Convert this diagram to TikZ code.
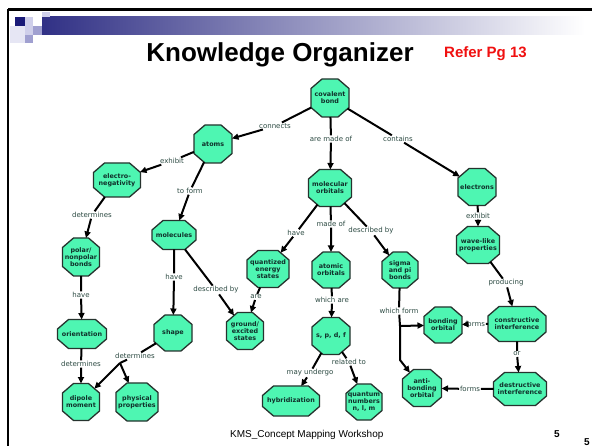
\documentclass[tikz,border=0pt]{standalone}
\usepackage{fontspec}
\setmainfont{Liberation Sans}
\newfontfamily\dvs{DejaVu Sans}
\usetikzlibrary{arrows.meta}
\makeatletter
\newdimen\octL \newdimen\octR \newdimen\octB \newdimen\octT \newdimen\octCX \newdimen\octCY
\def\octcutx{11pt}
\def\octcuty{9.5pt}
\pgfdeclareshape{octbox}{%
  \inheritsavedanchors[from=rectangle]%
  \inheritanchor[from=rectangle]{center}%
  \inheritanchor[from=rectangle]{north}%
  \inheritanchor[from=rectangle]{south}%
  \inheritanchor[from=rectangle]{east}%
  \inheritanchor[from=rectangle]{west}%
  \inheritanchor[from=rectangle]{mid}%
  \inheritanchor[from=rectangle]{base}%
  \backgroundpath{%
    \southwest \octL=\pgf@x \octB=\pgf@y
    \northeast \octR=\pgf@x \octT=\pgf@y
    \octCX=\octcutx\relax \octCY=\octcuty\relax
    \pgfpathmoveto{\pgfqpoint{\octL}{\dimexpr\octB+\octCY\relax}}%
    \pgfpathlineto{\pgfqpoint{\octL}{\dimexpr\octT-\octCY\relax}}%
    \pgfpathlineto{\pgfqpoint{\dimexpr\octL+\octCX\relax}{\octT}}%
    \pgfpathlineto{\pgfqpoint{\dimexpr\octR-\octCX\relax}{\octT}}%
    \pgfpathlineto{\pgfqpoint{\octR}{\dimexpr\octT-\octCY\relax}}%
    \pgfpathlineto{\pgfqpoint{\octR}{\dimexpr\octB+\octCY\relax}}%
    \pgfpathlineto{\pgfqpoint{\dimexpr\octR-\octCX\relax}{\octB}}%
    \pgfpathlineto{\pgfqpoint{\dimexpr\octL+\octCX\relax}{\octB}}%
    \pgfpathclose
  }%
  \anchorborder{%
    \edef\octdx{\the\pgf@x}\edef\octdy{\the\pgf@y}%
    \southwest \octL=\pgf@x \octB=\pgf@y
    \northeast \octR=\pgf@x \octT=\pgf@y
    \pgfmathsetmacro\octa{0.5*(\the\octR)-0.5*(\the\octL)}%
    \pgfmathsetmacro\octb{0.5*(\the\octT)-0.5*(\the\octB)}%
    \pgfmathsetmacro\octcx{0.5*(\the\octR)+0.5*(\the\octL)}%
    \pgfmathsetmacro\octcy{0.5*(\the\octT)+0.5*(\the\octB)}%
    \pgfmathsetmacro\octkx{\octcutx}%
    \pgfmathsetmacro\octky{\octcuty}%
    \pgfmathsetmacro\octadx{max(abs(\octdx),0.002)}%
    \pgfmathsetmacro\octady{max(abs(\octdy),0.002)}%
    \pgfmathsetmacro\octta{\octa/\octadx}%
    \pgfmathsetmacro\octtb{\octb/\octady}%
    \pgfmathsetmacro\octtc{(\octky*\octa+\octkx*\octb-\octkx*\octky)/(\octky*\octadx+\octkx*\octady)}%
    \pgfmathsetmacro\octt{min(\octta,\octtb,\octtc)}%
    \pgfmathsetmacro\octrx{\octcx+\octt*\octdx}%
    \pgfmathsetmacro\octry{\octcy+\octt*\octdy}%
    \pgf@x=\octrx pt\relax
    \pgf@y=\octry pt\relax
  }%
}
\makeatother
\definecolor{octfill}{HTML}{4EF6B2}
\definecolor{octdraw}{HTML}{26332E}
\definecolor{octtext}{HTML}{10302A}
\definecolor{labtext}{HTML}{2C4A42}
\definecolor{navy}{HTML}{1A1A78}
\definecolor{barmid}{HTML}{B4B4CA}
\definecolor{sqa}{HTML}{CFCFEA}
\definecolor{sqb}{HTML}{A0A0D0}
\definecolor{sqc}{HTML}{E6E6F4}
\definecolor{refred}{HTML}{F01010}
\tikzset{
  oct/.style={octbox, inner sep=0pt, outer sep=0pt, fill=octfill, draw=octdraw, line width=1.3pt,
    text=octtext, font=\dvs\bfseries\fontsize{6.4}{7.2}\selectfont, align=center},
  lab/.style={inner sep=0.8pt, text=labtext, font=\dvs\fontsize{7}{8}\selectfont},
  conn/.style={line width=2pt, black},
  arr/.style={conn, -{Triangle[length=6.5pt,width=6pt]}},
}
\begin{document}
\begin{tikzpicture}[x=1pt,y=-1pt]
\useasboundingbox (0,0) rectangle (592,446);
\fill[white] (0,0) rectangle (592,446);
% slide frame and header
\draw[line width=2.4pt] (8,9.5) -- (592,9.5);
\draw[line width=2.4pt] (8,9.5) -- (8,446);
\shade[left color=navy!90!white, middle color=barmid, right color=white] (42,17) rectangle (585,35);
\fill[navy] (15,17) rectangle (25,26);
\fill[sqa] (25,17) rectangle (33,26);
\fill[sqa] (42,12) rectangle (50,17);
\fill[sqc] (10,26) rectangle (25,35);
\fill[sqa] (25,26) rectangle (33,35);
\fill[sqb] (33,26) rectangle (42,35);
\fill[sqb] (25,35) rectangle (33,43);
\fill[sqc] (10,35) rectangle (25,43);
\node[anchor=base, font=\bfseries\fontsize{26}{30}\selectfont] (title) at (280,62) {Knowledge Organizer};
\node[anchor=base west, inner sep=0pt, text=refred, font=\bfseries\fontsize{15}{18}\selectfont] (refer) at (444,58) {Refer Pg 13};
\node[anchor=base west, inner sep=0pt, font=\fontsize{10}{12}\selectfont] (footer) at (230,437) {KMS\_Concept Mapping Workshop};
\node[anchor=base, inner sep=0pt, font=\bfseries\fontsize{10}{12}\selectfont] (pga) at (557,437) {5};
\node[anchor=base, inner sep=0pt, font=\bfseries\fontsize{10}{12}\selectfont] (pgb) at (587,445) {5};
% concepts
\node[oct, minimum width=38pt, minimum height=38pt] (cb) at (330,98) {covalent\\bond};
\node[oct, minimum width=38pt, minimum height=38pt] (atoms) at (213,144) {atoms};
\node[oct, minimum width=47pt, minimum height=34pt] (en) at (117,180) {electro-\\negativity};
\node[oct, minimum width=44pt, minimum height=29pt] (mol) at (174,235) {molecules};
\node[oct, minimum width=37pt, minimum height=38pt] (polar) at (81,257) {polar/\\nonpolar\\bonds};
\node[oct, minimum width=42pt, minimum height=37pt] (qes) at (268,269) {quantized\\energy\\states};
\node[oct, minimum width=43pt, minimum height=37pt] (mo) at (330,188) {molecular\\orbitals};
\node[oct, minimum width=38pt, minimum height=36pt] (ao) at (331,270) {atomic\\orbitals};
\node[oct, minimum width=36pt, minimum height=36pt] (sig) at (400,270) {sigma\\and pi\\bonds};
\node[oct, minimum width=38pt, minimum height=37pt] (el) at (477,187) {electrons};
\node[oct, minimum width=43pt, minimum height=37pt] (wave) at (478,245) {wave-like\\properties};
\node[oct, minimum width=58pt, minimum height=35pt] (ci) at (517,324) {constructive\\interference};
\node[oct, minimum width=38pt, minimum height=36pt] (bo) at (443,325) {bonding\\orbital};
\node[oct, minimum width=53pt, minimum height=33pt] (di) at (520,389) {destructive\\interference};
\node[oct, minimum width=39pt, minimum height=37pt] (ab) at (422,388) {anti-\\bonding\\orbital};
\node[oct, minimum width=49pt, minimum height=29pt] (ori) at (82,334) {orientation};
\node[oct, minimum width=38pt, minimum height=36pt] (shape) at (173,333) {shape};
\node[oct, minimum width=37pt, minimum height=37pt] (ges) at (245,331) {ground/\\excited\\states};
\node[oct, minimum width=37pt, minimum height=37pt] (dip) at (81,402) {dipole\\moment};
\node[oct, minimum width=42pt, minimum height=38pt] (phys) at (137,402) {physical\\properties};
\node[oct, minimum width=38pt, minimum height=37pt] (spdf) at (331,336) {s, p, d, f};
\node[oct, minimum width=57pt, minimum height=30pt] (hyb) at (291,401) {hybridization};
\node[oct, minimum width=36pt, minimum height=36pt] (qn) at (364,402) {quantum\\numbers\\n, l, m};
% linking phrases
\node[lab] (l1) at (275,126) {connects};
\node[lab] (l2) at (331,139) {are made of};
\node[lab] (l3) at (398,139) {contains};
\node[lab] (l4) at (172,161) {exhibit};
\node[lab] (l5) at (190,191) {to form};
\node[lab] (l6) at (92,215) {determines};
\node[lab] (l7) at (81,295) {have};
\node[lab] (l8) at (81,364) {determines};
\node[lab] (l9) at (174,277) {have};
\node[lab] (l10) at (216,290) {described by};
\node[lab] (l11) at (135,356) {determines};
\node[lab] (l12) at (296,233) {have};
\node[lab] (l13) at (331,224) {made of};
\node[lab] (l14) at (371,231) {described by};
\node[lab] (l15) at (256,297) {are};
\node[lab] (l16) at (332,300) {which are};
\node[lab] (l17) at (310,373) {may undergo};
\node[lab] (l18) at (349,362) {related to};
\node[lab] (l19) at (399,311) {which form};
\node[lab] (l20) at (475,324) {forms};
\node[lab] (l21) at (478,216) {exhibit};
\node[lab] (l22) at (506,283) {producing};
\node[lab] (l23) at (517,354) {or};
\node[lab] (l24) at (470,389) {forms};
\coordinate (f1) at (120,363);
\coordinate (f2) at (400,326);
\coordinate (f3) at (400,360);
% connectors
\draw[arr] (cb) -- (l1) -- (atoms);
\draw[arr] (cb) -- (l2) -- (mo);
\draw[arr] (cb) -- (l3) -- (el);
\draw[arr] (atoms) -- (l4) -- (en);
\draw[arr] (atoms) -- (l5) -- (mol);
\draw[arr] (en) -- (l6) -- (polar);
\draw[arr] (polar) -- (l7) -- (ori);
\draw[arr] (ori) -- (l8) -- (dip);
\draw[arr] (mol) -- (l9) -- (shape);
\draw[arr] (mol) -- (l10) -- (ges);
\draw[conn] (shape) -- (l11) -- (f1);
\draw[arr] (f1) -- (dip);
\draw[arr] (f1) -- (phys);
\draw[arr] (mo) -- (l12) -- (qes);
\draw[arr] (mo) -- (l13) -- (ao);
\draw[arr] (mo) -- (l14) -- (sig);
\draw[arr] (qes) -- (l15) -- (ges);
\draw[arr] (ao) -- (l16) -- (spdf);
\draw[arr] (spdf) -- (l17) -- (hyb);
\draw[arr] (spdf) -- (l18) -- (qn);
\draw[conn] (sig) -- (l19) -- (f2);
\draw[arr] (f2) -- (bo);
\draw[arr] (f2) -- (f3) -- (ab);
\draw[arr] (ci) -- (l20) -- (bo);
\draw[arr] (el) -- (l21) -- (wave);
\draw[arr] (wave) -- (l22) -- (ci);
\draw[arr] (ci) -- (l23) -- (di);
\draw[arr] (di) -- (l24) -- (ab);
\end{tikzpicture}
\end{document}
